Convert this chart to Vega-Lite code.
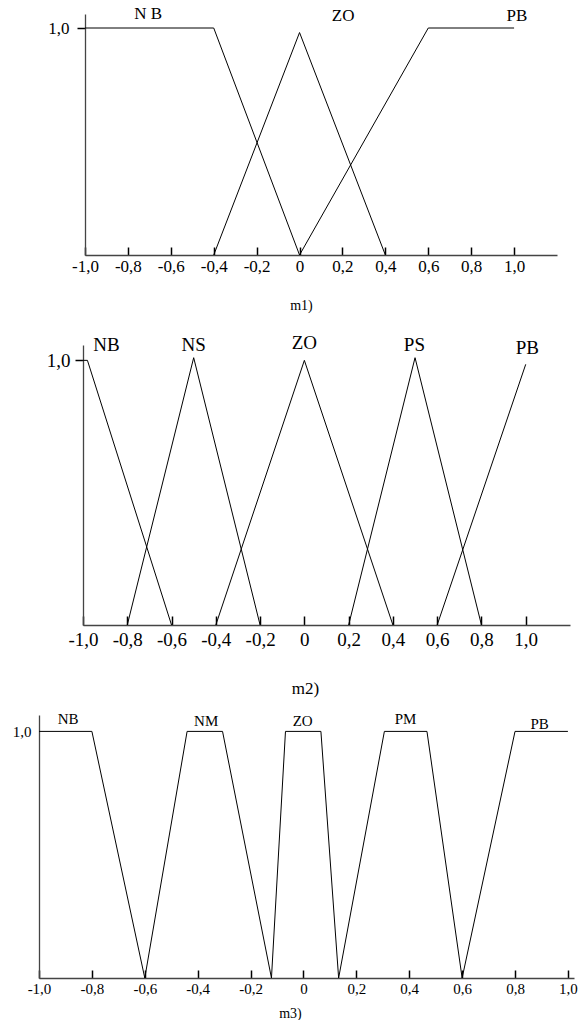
{
  "$schema": "https://vega.github.io/schema/vega-lite/v6.json",
  "padding": {"left": 12, "top": 5, "right": 0, "bottom": 0},
  "spacing": 90,
  "bounds": "flush",
  "datasets": {
    "l1": [
      {"set": "NB", "i": 1, "x": -1, "y": 1},
      {"set": "NB", "i": 2, "x": -0.4, "y": 1},
      {"set": "NB", "i": 3, "x": 0, "y": 0},
      {"set": "ZO", "i": 1, "x": -0.4, "y": 0},
      {"set": "ZO", "i": 2, "x": 0, "y": 0.98},
      {"set": "ZO", "i": 3, "x": 0.4, "y": 0},
      {"set": "PB", "i": 1, "x": 0, "y": 0},
      {"set": "PB", "i": 2, "x": 0.6, "y": 1},
      {"set": "PB", "i": 3, "x": 1, "y": 1}
    ],
    "t1": [
      {"label": "N B", "x": -0.706, "y": 1.06},
      {"label": "ZO", "x": 0.203, "y": 1.053},
      {"label": "PB", "x": 1.013, "y": 1.053}
    ],
    "l2": [
      {"set": "NB", "i": 1, "x": -1, "y": 1},
      {"set": "NB", "i": 2, "x": -0.98, "y": 1},
      {"set": "NB", "i": 3, "x": -0.6, "y": 0},
      {"set": "NS", "i": 1, "x": -0.8, "y": 0},
      {"set": "NS", "i": 2, "x": -0.5, "y": 1.01},
      {"set": "NS", "i": 3, "x": -0.2, "y": 0},
      {"set": "ZO", "i": 1, "x": -0.4, "y": 0},
      {"set": "ZO", "i": 2, "x": 0, "y": 1},
      {"set": "ZO", "i": 3, "x": 0.4, "y": 0},
      {"set": "PS", "i": 1, "x": 0.2, "y": 0},
      {"set": "PS", "i": 2, "x": 0.5, "y": 1.01},
      {"set": "PS", "i": 3, "x": 0.8, "y": 0},
      {"set": "PB", "i": 1, "x": 0.6, "y": 0},
      {"set": "PB", "i": 2, "x": 1.0, "y": 0.985}
    ],
    "t2": [
      {"label": "NB", "x": -0.894, "y": 1.059},
      {"label": "NS", "x": -0.5, "y": 1.059},
      {"label": "ZO", "x": 0.0, "y": 1.066},
      {"label": "PS", "x": 0.497, "y": 1.059},
      {"label": "PB", "x": 1.007, "y": 1.047}
    ],
    "l3": [
      {"set": "NB", "i": 1, "x": -1, "y": 1},
      {"set": "NB", "i": 2, "x": -0.8, "y": 1},
      {"set": "NB", "i": 3, "x": -0.6, "y": 0},
      {"set": "NM", "i": 1, "x": -0.6, "y": 0},
      {"set": "NM", "i": 2, "x": -0.44, "y": 1},
      {"set": "NM", "i": 3, "x": -0.306, "y": 1},
      {"set": "NM", "i": 4, "x": -0.121, "y": 0},
      {"set": "ZO", "i": 1, "x": -0.121, "y": 0},
      {"set": "ZO", "i": 2, "x": -0.068, "y": 1},
      {"set": "ZO", "i": 3, "x": 0.066, "y": 1},
      {"set": "ZO", "i": 4, "x": 0.133, "y": 0},
      {"set": "PM", "i": 1, "x": 0.133, "y": 0},
      {"set": "PM", "i": 2, "x": 0.306, "y": 1},
      {"set": "PM", "i": 3, "x": 0.467, "y": 1},
      {"set": "PM", "i": 4, "x": 0.6, "y": 0},
      {"set": "PB", "i": 1, "x": 0.6, "y": 0},
      {"set": "PB", "i": 2, "x": 0.8, "y": 1},
      {"set": "PB", "i": 3, "x": 1.0, "y": 1}
    ],
    "t3": [
      {"label": "NB", "x": -0.89, "y": 1.05},
      {"label": "NM", "x": -0.368, "y": 1.041},
      {"label": "ZO", "x": -0.003, "y": 1.041},
      {"label": "PM", "x": 0.386, "y": 1.05},
      {"label": "PB", "x": 0.893, "y": 1.03}
    ]
  },
  "vconcat": [
    {
      "width": 535,
      "height": 241,
      "encoding": {
        "x": {
          "field": "x", "type": "quantitative",
          "scale": {"domain": [-1, 1.2], "range": [46, 518], "nice": false, "zero": false},
          "axis": {
            "values": [-1, -0.8, -0.6, -0.4, -0.2, 0, 0.2, 0.4, 0.6, 0.8, 1],
            "labelExpr": "datum.value == 0 ? '0' : replace(replace(format(datum.value, '.1f'), '.', ','), '\u2212', '-')",
            "tickSize": -8, "labelPadding": 11, "labelFontSize": 17,
            "title": "m1)", "titleFontSize": 14, "titleX": 262, "titleY": 50, "titleBaseline": "middle"
          }
        },
        "y": {
          "field": "y", "type": "quantitative",
          "scale": {"domain": [0, 1.0617], "nice": false, "zero": false},
          "axis": {"values": [1], "labelExpr": "'1,0'", "offset": -46, "tickSize": 8, "labelPadding": 8, "labelFontSize": 17, "title": null}
        }
      },
      "layer": [
        {"data": {"name": "l1"}, "mark": {"type": "line", "color": "black", "strokeWidth": 1},
         "encoding": {"detail": {"field": "set"}, "order": {"field": "i"}}},
        {"data": {"name": "t1"}, "mark": {"type": "text", "fontSize": 17, "color": "black", "baseline": "middle"},
         "encoding": {"text": {"field": "label"}}}
      ]
    },
    {
      "width": 535,
      "height": 280,
      "encoding": {
        "x": {
          "field": "x", "type": "quantitative",
          "scale": {"domain": [-1, 1.2], "range": [44, 531], "nice": false, "zero": false},
          "axis": {
            "values": [-1, -0.8, -0.6, -0.4, -0.2, 0, 0.2, 0.4, 0.6, 0.8, 1],
            "labelExpr": "datum.value == 0 ? '0' : replace(replace(format(datum.value, '.1f'), '.', ','), '\u2212', '-')",
            "tickSize": -9, "labelPadding": 14, "labelFontSize": 19,
            "title": "m2)", "titleFontSize": 17, "titleX": 266, "titleY": 63, "titleBaseline": "middle"
          }
        },
        "y": {
          "field": "y", "type": "quantitative",
          "scale": {"domain": [0, 1.058], "nice": false, "zero": false},
          "axis": {"values": [1], "labelExpr": "'1,0'", "offset": -44, "tickSize": 8, "labelPadding": 5, "labelFontSize": 19, "title": null}
        }
      },
      "layer": [
        {"data": {"name": "l2"}, "mark": {"type": "line", "color": "black", "strokeWidth": 1},
         "encoding": {"detail": {"field": "set"}, "order": {"field": "i"}}},
        {"data": {"name": "t2"}, "mark": {"type": "text", "fontSize": 19, "color": "black", "baseline": "middle"},
         "encoding": {"text": {"field": "label"}}}
      ]
    },
    {
      "width": 535,
      "height": 263,
      "encoding": {
        "x": {
          "field": "x", "type": "quantitative",
          "scale": {"domain": [-1, 1.023], "nice": false, "zero": false},
          "axis": {
            "values": [-1, -0.8, -0.6, -0.4, -0.2, 0, 0.2, 0.4, 0.6, 0.8, 1],
            "labelExpr": "datum.value == 0 ? '0' : replace(replace(format(datum.value, '.1f'), '.', ','), '\u2212', '-')",
            "tickSize": -8, "labelPadding": 11, "labelFontSize": 15,
            "title": "m3)", "titleFontSize": 14, "titleX": 251, "titleY": 35, "titleBaseline": "middle"
          }
        },
        "y": {
          "field": "y", "type": "quantitative",
          "scale": {"domain": [0, 1.0665], "nice": false, "zero": false},
          "axis": {"values": [1], "labelExpr": "'1,0'", "ticks": false, "labelPadding": 8, "labelFontSize": 15, "title": null}
        }
      },
      "layer": [
        {"data": {"name": "l3"}, "mark": {"type": "line", "color": "black", "strokeWidth": 1},
         "encoding": {"detail": {"field": "set"}, "order": {"field": "i"}}},
        {"data": {"name": "t3"}, "mark": {"type": "text", "fontSize": 15, "color": "black", "baseline": "middle"},
         "encoding": {"text": {"field": "label"}}}
      ]
    }
  ],
  "config": {
    "font": "Liberation Serif",
    "view": {"stroke": null},
    "axis": {
      "grid": false,
      "labelFont": "Liberation Serif",
      "labelColor": "black",
      "labelFlush": false,
      "labelOverlap": false,
      "titleFont": "Liberation Serif",
      "titleFontWeight": "normal",
      "titleColor": "black",
      "domainColor": "#444",
      "domainWidth": 1.3,
      "ticks": true,
      "tickColor": "black",
      "tickWidth": 1.5
    },
    "text": {"font": "Liberation Serif"}
  }
}
